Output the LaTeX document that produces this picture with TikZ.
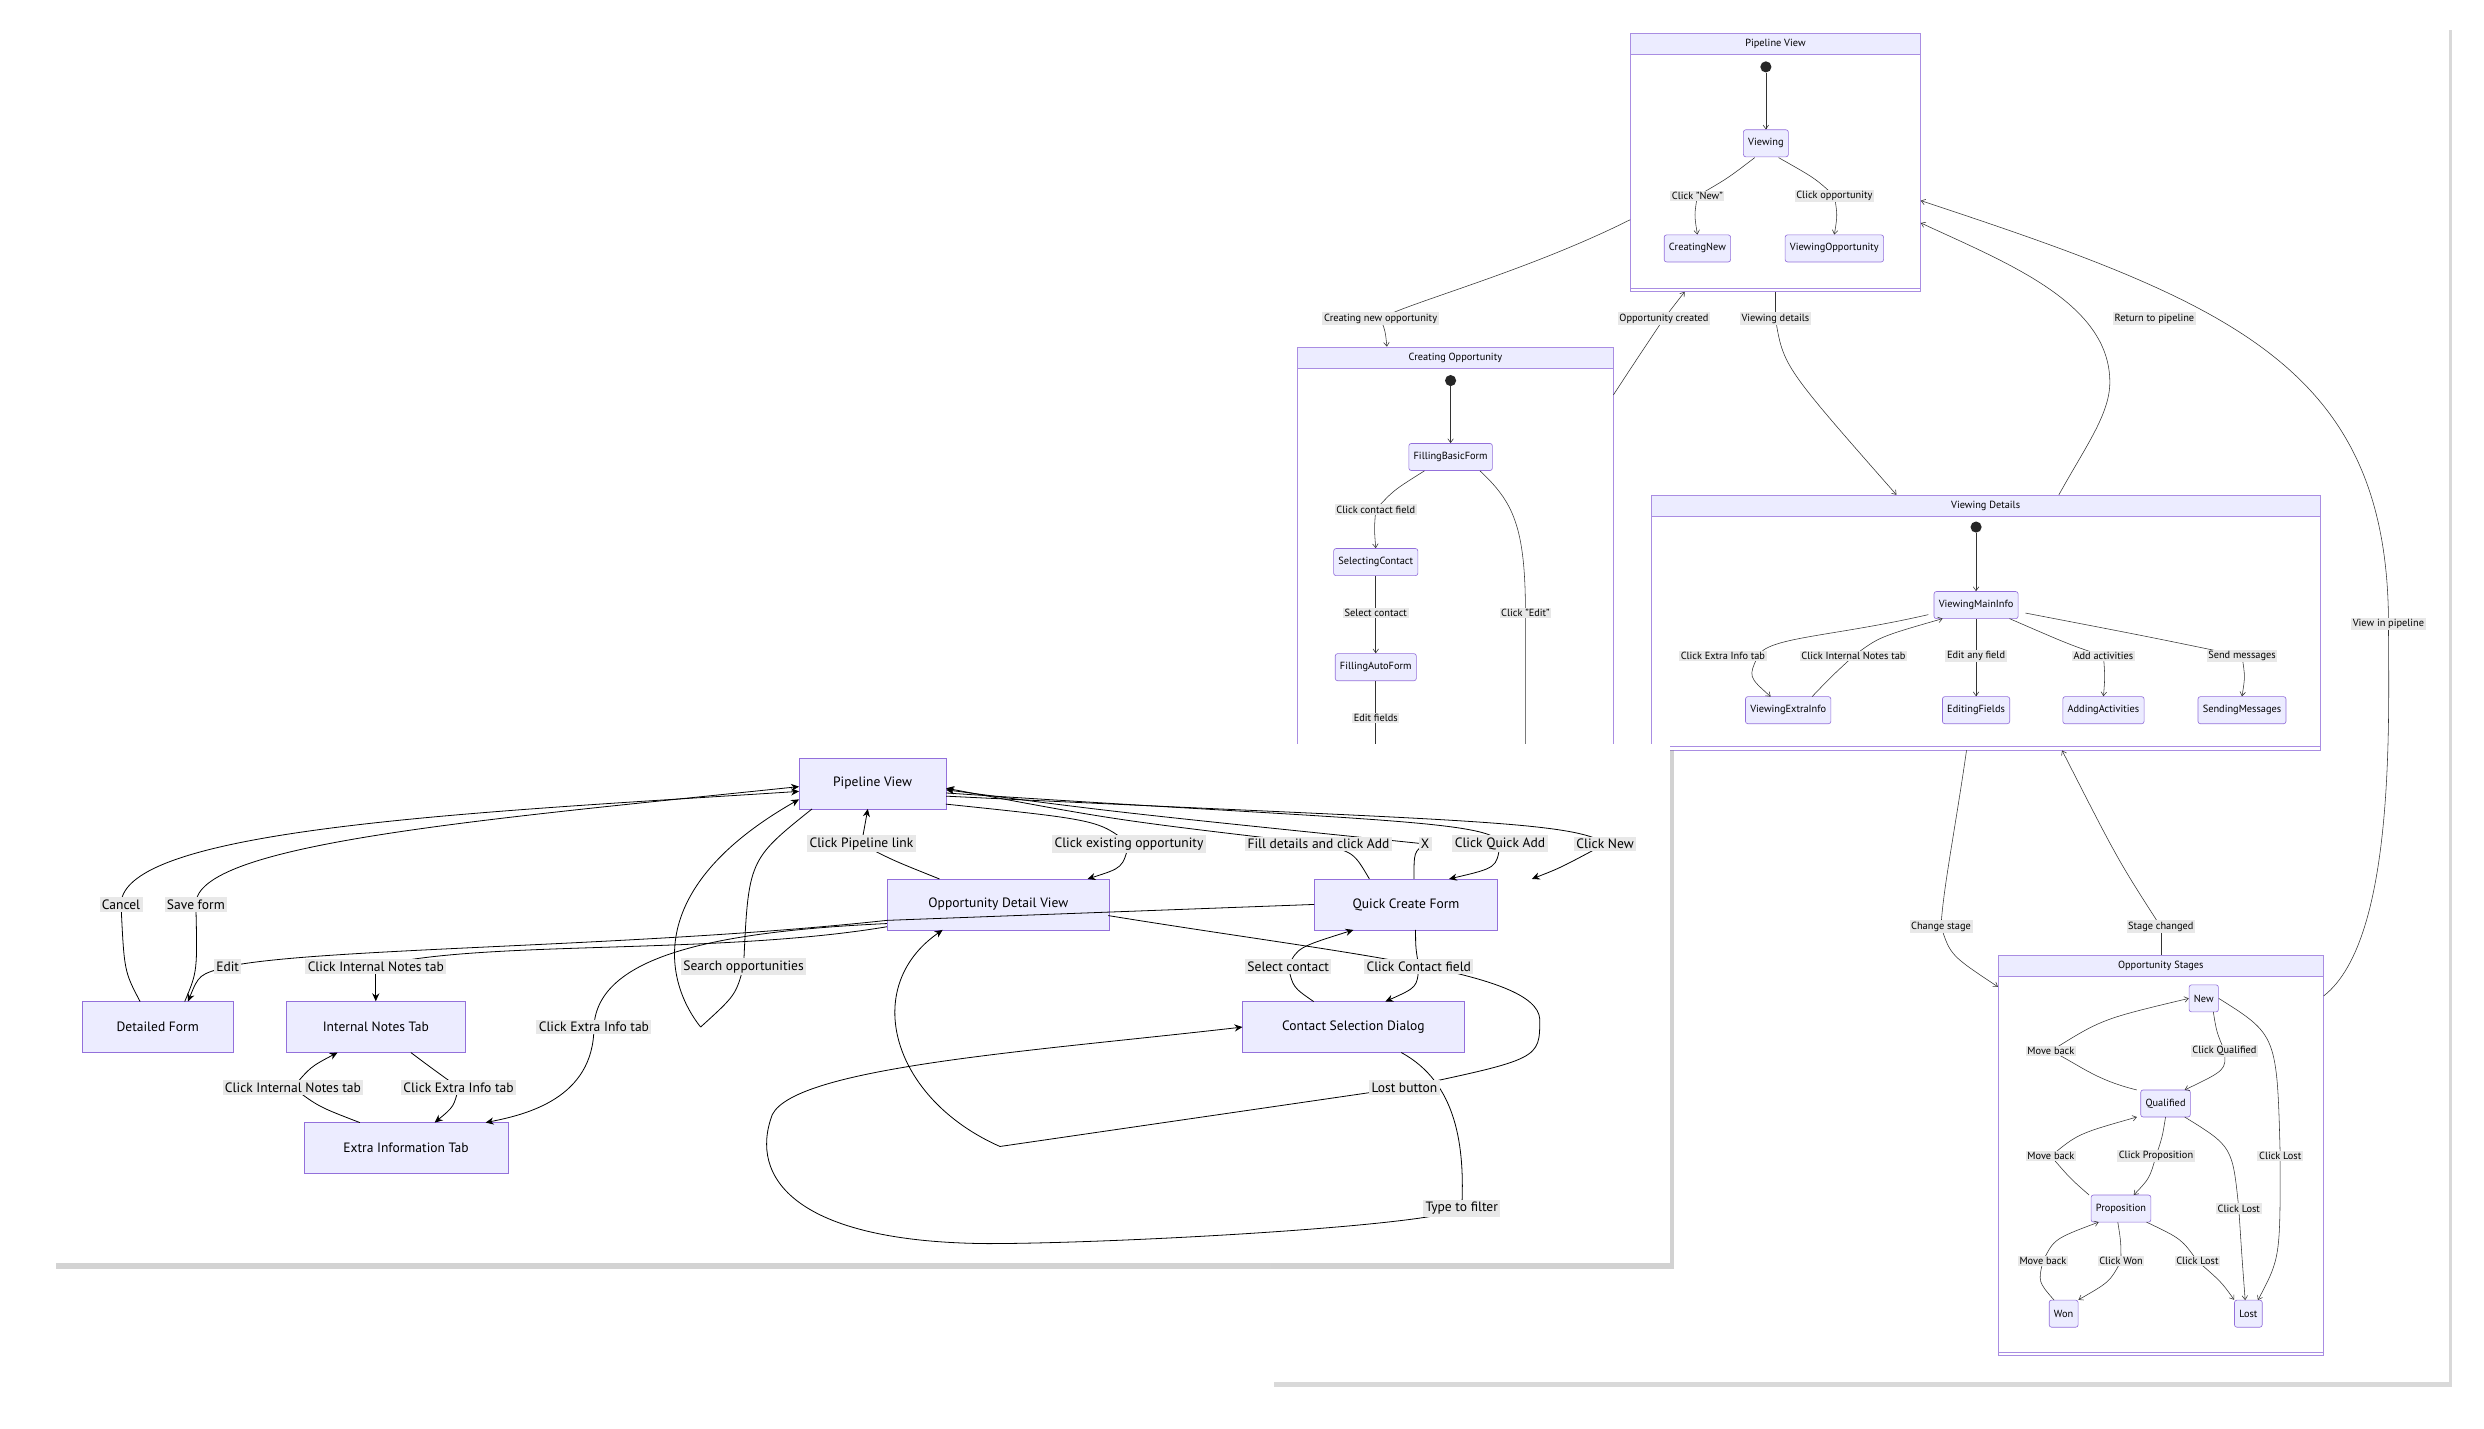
\documentclass[tikz,border=0pt]{standalone}
\usepackage{fontspec}
\setmainfont{PT Sans}
\usetikzlibrary{arrows.meta,shadows}
\definecolor{mfill}{HTML}{ECECFF}
\definecolor{mborder}{HTML}{9370DB}
\definecolor{lblbg}{HTML}{E8E8E8}
\tikzset{
  st/.style={draw=mborder, fill=mfill, rounded corners=1.5pt, font=\fontsize{6.5}{7}\selectfont, minimum height=17pt, inner xsep=3pt},
  fn/.style={draw=mborder, fill=mfill, font=\fontsize{8.5}{9}\selectfont, minimum height=32pt},
  clbox/.style={draw=mborder!80, fill=white, line width=0.5pt},
  clhead/.style={draw=mborder!80, fill=mfill, font=\fontsize{6.5}{7}\selectfont, minimum height=13pt, inner sep=0pt},
  dot/.style={circle, fill=black!85, minimum size=7pt, inner sep=0pt},
  bl/.style={fill=lblbg, font=\fontsize{6.5}{7}\selectfont, inner sep=1pt},
  fl/.style={fill=lblbg, font=\fontsize{8.5}{9}\selectfont, inner sep=1.5pt},
  ba/.style={-{Straight Barb[length=2.5pt,width=3.5pt]}, line width=0.35pt, draw=black!80},
  bn/.style={line width=0.35pt, draw=black!80},
  fa/.style={-{Stealth[length=5pt,width=4.5pt]}, line width=0.5pt},
  fe/.style={line width=0.5pt},
}
\begin{document}
\begin{tikzpicture}[x=1pt,y=-1pt]
\useasboundingbox (0,0) rectangle (1560,897);

% back panel
\fill[white, drop shadow={shadow xshift=2pt, shadow yshift=-3pt, opacity=.3}] (798,16) rectangle (1538,868);

% clusters
\node[clbox, minimum width=182pt, minimum height=162pt] (pv) at (1115,102) {};
\node[clhead, minimum width=182pt] at (1115,27.5) {Pipeline View};
\draw[mborder!80] (1024,181) -- (1206,181);
\node[clbox, minimum width=198pt, minimum height=262pt] (co) at (914,349) {};
\node[clhead, minimum width=198pt] at (914,224.5) {Creating Opportunity};
\node[clbox, minimum width=420pt, minimum height=160pt] (vd) at (1247,391) {};
\node[clhead, minimum width=420pt] at (1247,317.5) {Viewing Details};
\draw[mborder!80] (1037,469) -- (1457,469);
\node[clbox, minimum width=204pt, minimum height=251pt] (os) at (1357,725.5) {};
\node[clhead, minimum width=204pt] at (1357,606.5) {Opportunity Stages};
\draw[mborder!80] (1255,849) -- (1459,849);

% pipeline view
\node[dot] (pv0) at (1109,42) {};
\node[st] (vw) at (1109,90) {Viewing};
\node[st] (cn) at (1066,156) {CreatingNew};
\node[st] (vo) at (1152,156) {ViewingOpportunity};
\coordinate (lnew) at (1066,123);
\coordinate (lopp) at (1152,123);
\draw[ba] (pv0) -- (vw);
\draw[bn] (1102,99) .. controls (1085,112) .. (lnew);
\draw[ba] (lnew) .. controls (1064,135) .. (cn.north);
\draw[bn] (1117,99) .. controls (1140,112) .. (lopp);
\draw[ba] (lopp) .. controls (1154,135) .. (vo.north);

% creating opportunity
\node[dot] (co0) at (911,239) {};
\node[st] (fbf) at (911,287) {FillingBasicForm};
\node[st] (sc) at (864,353) {SelectingContact};
\node[st] (faf) at (864,419) {FillingAutoForm};
\coordinate (lcf) at (864,320);
\coordinate (lsc) at (864,385);
\coordinate (led) at (958,385);
\coordinate (lef) at (864,451);
\coordinate (coend) at (958,480);
\coordinate (faend) at (864,480);
\draw[ba] (co0) -- (fbf);
\draw[bn] (fbf.south west) ++(10,0) .. controls (875,308) .. (lcf);
\draw[ba] (lcf) .. controls (863,332) .. (sc.north);
\draw[ba] (sc) -- (faf);
\draw[bn] (fbf.south east) ++(-8,0) .. controls (950,315) and (958,330) .. (led) -- (coend);
\draw[bn] (faf) -- (faend);

% viewing details
\node[dot] (vd0) at (1241,331) {};
\node[st] (vmi) at (1241,380) {ViewingMainInfo};
\node[st] (vei) at (1123,446) {ViewingExtraInfo};
\node[st] (ef) at (1241,446) {EditingFields};
\node[st] (aa) at (1321,446) {AddingActivities};
\node[st] (sm) at (1408,446) {SendingMessages};
\coordinate (lxi) at (1082,412);
\coordinate (lin) at (1164,412);
\coordinate (laf) at (1241,412);
\coordinate (lac) at (1321,412);
\coordinate (lsm) at (1408,412);
\draw[ba] (vd0) -- (vmi);
\draw[bn] (1211,386) .. controls (1150,400) and (1110,400) .. (1104,412);
\draw[ba] (1104,412) .. controls (1098,425) .. (1112,437.5);
\draw[bn] (1138,437.5) .. controls (1150,425) .. (lin);
\draw[ba] (lin) .. controls (1180,400) .. (1220,388.5);
\draw[ba] (vmi) -- (ef);
\draw[bn] (1262,388.5) .. controls (1300,405) .. (lac);
\draw[ba] (lac) .. controls (1322,425) .. (aa.north);
\draw[bn] (1272,385) .. controls (1350,400) .. (lsm);
\draw[ba] (lsm) .. controls (1410,425) .. (sm.north);

% opportunity stages
\node[st] (new) at (1384,627) {New};
\node[st] (qu) at (1360,693) {Qualified};
\node[st] (pr) at (1332,759) {Proposition};
\node[st] (won) at (1296,825) {Won};
\node[st] (lost) at (1412,825) {Lost};
\coordinate (lmb1) at (1288,660);
\coordinate (lcq) at (1397,660);
\coordinate (lmb2) at (1288,726);
\coordinate (lcp) at (1354,726);
\coordinate (lcl1) at (1432,726);
\coordinate (lcl2) at (1406,759);
\coordinate (lmb3) at (1283,792);
\coordinate (lcw) at (1332,792);
\coordinate (lcl3) at (1380,792);
\draw[bn] (1342,684.5) .. controls (1315,678) and (1305,668) .. (lmb1);
\draw[ba] (lmb1) .. controls (1320,640) .. (new.west);
\draw[bn] (1390,635.5) .. controls (1392,648) .. (lcq);
\draw[ba] (lcq) .. controls (1398,672) .. (1372,684.5);
\draw[bn] (1312,750.5) .. controls (1300,740) .. (lmb2);
\draw[ba] (lmb2) .. controls (1305,712) .. (1342,701.5);
\draw[bn] (1360,701.5) .. controls (1358,714) .. (lcp);
\draw[ba] (lcp) .. controls (1350,740) .. (1340,750.5);
\draw[bn] (new.east) .. controls (1430,650) .. (lcl1);
\draw[ba] (lcl1) .. controls (1432,790) .. (1418,816.5);
\draw[bn] (1372,701.5) .. controls (1402,720) .. (lcl2);
\draw[ba] (lcl2) .. controls (1408,790) .. (1410,816.5);
\draw[bn] (1290,816.5) .. controls (1280,805) .. (lmb3);
\draw[ba] (lmb3) .. controls (1290,778) .. (1318,767.5);
\draw[bn] (1330,767.5) .. controls (1332,780) .. (lcw);
\draw[ba] (lcw) .. controls (1325,805) .. (won.north east);
\draw[bn] (1348,767.5) .. controls (1370,778) .. (lcl3);
\draw[ba] (lcl3) .. controls (1395,805) .. (lost.north west);

% between clusters
\coordinate (lcno) at (867,200);
\coordinate (loc) at (1045,200);
\coordinate (lvd) at (1115,200);
\coordinate (lrp) at (1353,200);
\coordinate (lrpc) at (1325,240);
\coordinate (lvp) at (1500,392);
\coordinate (lcs) at (1219,582);
\coordinate (lsch) at (1357,582);
\draw[bn] ([yshift=-36pt]pv.west) .. controls (960,170) and (885,190) .. (lcno);
\draw[ba] (lcno) .. controls (870,208) .. ([xshift=-43pt]co.north);
\draw[bn] ([yshift=101pt]co.east) .. controls (1025,230) .. (loc);
\draw[ba] (loc) -- ([xshift=-57pt]pv.south);
\draw[bn] (pv.south) -- (lvd);
\draw[ba] (lvd) .. controls (1120,230) .. ([xshift=-56pt]vd.north);
\draw[bn] ([xshift=46pt]vd.north) .. controls (1310,280) and (1325,260) .. (lrpc);
\draw[ba] (lrpc) .. controls (1325,190) and (1260,165) .. ([yshift=-38pt]pv.east);
\draw[bn] ([yshift=100pt]os.east) .. controls (1505,590) and (1500,450) .. (lvp);
\draw[ba] (lvp) .. controls (1500,230) and (1400,190) .. ([yshift=-24pt]pv.east);
\draw[bn] ([xshift=-12pt]vd.south) .. controls (1228,520) and (1220,560) .. (lcs);
\draw[ba] (lcs) .. controls (1225,600) .. ([yshift=-20pt]os.north west);
\draw[bn] (os.north) -- (lsch);
\draw[ba] (lsch) .. controls (1330,540) .. ([xshift=48pt]vd.south);

% back labels
\node[bl] at (lnew) {Click "New"};
\node[bl] at (lopp) {Click opportunity};
\node[bl] at (lcf) {Click contact field};
\node[bl] at (lsc) {Select contact};
\node[bl] at (led) {Click "Edit"};
\node[bl] at (lef) {Edit fields};
\node[bl] at (lxi) {Click Extra Info tab};
\node[bl] at (lin) {Click Internal Notes tab};
\node[bl] at (laf) {Edit any field};
\node[bl] at (lac) {Add activities};
\node[bl] at (lsm) {Send messages};
\node[bl] at (lmb1) {Move back};
\node[bl] at (lcq) {Click Qualified};
\node[bl] at (lmb2) {Move back};
\node[bl] at (lcp) {Click Proposition};
\node[bl] at (lcl1) {Click Lost};
\node[bl] at (lcl2) {Click Lost};
\node[bl] at (lmb3) {Move back};
\node[bl] at (lcw) {Click Won};
\node[bl] at (lcl3) {Click Lost};
\node[bl] at (lcno) {Creating new opportunity};
\node[bl] at (loc) {Opportunity created};
\node[bl] at (lvd) {Viewing details};
\node[bl] at (lrp) {Return to pipeline};
\node[bl] at (lvp) {View in pipeline};
\node[bl] at (lcs) {Change stage};
\node[bl] at (lsch) {Stage changed};

% front panel
\fill[white, drop shadow={shadow xshift=2pt, shadow yshift=-4pt, opacity=.35}] (33,467) rectangle (1049,793);
\node[fn, minimum width=92pt] (pvw) at (548,492) {Pipeline View};
\node[fn, minimum width=139pt] (odv) at (627,568) {Opportunity Detail View};
\node[fn, minimum width=115pt] (qcf) at (883,568) {Quick Create Form};
\node[fn, minimum width=95pt] (df) at (99,645) {Detailed Form};
\node[fn, minimum width=113pt] (int) at (236,645) {Internal Notes Tab};
\node[fn, minimum width=139pt] (csd) at (850,645) {Contact Selection Dialog};
\node[fn, minimum width=128pt] (eit) at (255,721) {Extra Information Tab};
\coordinate (fcan) at (76,568);
\coordinate (fsav) at (123,568);
\coordinate (fedt) at (143,607);
\coordinate (fint) at (236,607);
\coordinate (fsrc) at (467,607);
\coordinate (fsrt) at (440,645);
\coordinate (fext) at (373,645);
\coordinate (fpl) at (541,530);
\coordinate (fceo) at (709,530);
\coordinate (ffda) at (828,530);
\coordinate (fx) at (895,530);
\coordinate (fcqa) at (942,530);
\coordinate (fcn) at (1008,530);
\coordinate (fsc) at (809,607);
\coordinate (fccf) at (891,607);
\coordinate (fin2) at (184,683);
\coordinate (fex2) at (288,683);
\coordinate (flb) at (882,683);
\coordinate (flbt) at (628,720);
\coordinate (ftf) at (918,759);
\coordinate (ftfb) at (620,781);
\draw[fe] (88,629) .. controls (78,610) .. (fcan);
\draw[fa] (fcan) .. controls (76,520) and (300,510) .. ([yshift=-5pt]pvw.west);
\draw[fe] (116,629) .. controls (124,610) .. (fsav);
\draw[fa] (fsav) .. controls (122,530) and (300,515) .. ([yshift=-2pt]pvw.west);
\draw[fe] (qcf.west) -- (557,578) .. controls (400,595) and (200,595) .. (fedt);
\draw[fa] (fedt) .. controls (125,612) .. (118,629);
\draw[fe] (557,582) .. controls (450,600) and (300,590) .. (fint);
\draw[fa] (fint) .. controls (236,615) .. (int.north);
\draw[fe] (510,508) .. controls (470,540) .. (fsrc) .. controls (462,625) .. (fsrt);
\draw[fa] (fsrt) .. controls (420,620) and (400,560) .. ([yshift=-10pt]pvw.west);
\draw[fe] (557,580) .. controls (450,585) and (375,600) .. (fext);
\draw[fa] (fext) .. controls (373,690) and (330,700) .. (305,705);
\draw[fe] (590,552) .. controls (560,540) .. (fpl);
\draw[fa] (fpl) -- (545,508);
\draw[fe] (594,505) .. controls (690,515) .. (fceo);
\draw[fa] (fceo) .. controls (705,545) .. (683,552);
\draw[fe] (860,552) .. controls (850,535) .. (ffda);
\draw[fa] (ffda) .. controls (700,515) .. ([yshift=-3pt]pvw.east);
\draw[fe] (888,552) .. controls (888,535) .. (fx);
\draw[fa] (fx) .. controls (700,510) .. ([yshift=-4pt]pvw.east);
\draw[fe] ([yshift=-6pt]pvw.east) .. controls (850,515) and (940,515) .. (fcqa);
\draw[fa] (fcqa) .. controls (940,545) .. (910,552);
\draw[fe] ([yshift=-8pt]pvw.east) .. controls (900,515) and (990,515) .. (fcn);
\draw[fa] (fcn) .. controls (980,545) .. (962,552);
\draw[fe] (825,629) .. controls (812,620) .. (fsc);
\draw[fa] (fsc) .. controls (815,595) .. (850,584);
\draw[fe] (889,584) .. controls (889,595) .. (fccf);
\draw[fa] (fccf) .. controls (890,620) .. (870,629);
\draw[fe] (258,661) .. controls (270,670) .. (fex2);
\draw[fa] (fex2) .. controls (285,695) .. (273,705);
\draw[fe] (226,705) .. controls (200,695) .. (fin2);
\draw[fa] (fin2) .. controls (195,670) .. (212,661);
\draw[fe] (696,575) .. controls (850,600) and (965,610) .. (967,640) .. controls (967,665) .. (flb);
\draw[fe] (flb) -- (flbt);
\draw[fa] (flbt) .. controls (560,690) and (540,620) .. (592,584);
\draw[fe] (880,661) .. controls (915,680) and (920,720) .. (ftf);
\draw[fe] (ftf) .. controls (900,770) and (700,781) .. (ftfb);
\draw[fa] (ftfb) .. controls (500,780) and (470,740) .. (485,700) .. controls (500,670) and (650,660) .. (csd.west);
\node[fl] at (fcan) {Cancel};
\node[fl] at (fsav) {Save form};
\node[fl] at (fedt) {Edit};
\node[fl] at (fint) {Click Internal Notes tab};
\node[fl] at (fsrc) {Search opportunities};
\node[fl] at (fext) {Click Extra Info tab};
\node[fl] at (fpl) {Click Pipeline link};
\node[fl] at (fceo) {Click existing opportunity};
\node[fl] at (ffda) {Fill details and click Add};
\node[fl] at (fx) {X};
\node[fl] at (fcqa) {Click Quick Add};
\node[fl] at (fcn) {Click New};
\node[fl] at (fsc) {Select contact};
\node[fl] at (fccf) {Click Contact field};
\node[fl] at (fin2) {Click Internal Notes tab};
\node[fl] at (fex2) {Click Extra Info tab};
\node[fl] at (flb) {Lost button};
\node[fl] at (ftf) {Type to filter};
\end{tikzpicture}
\end{document}
